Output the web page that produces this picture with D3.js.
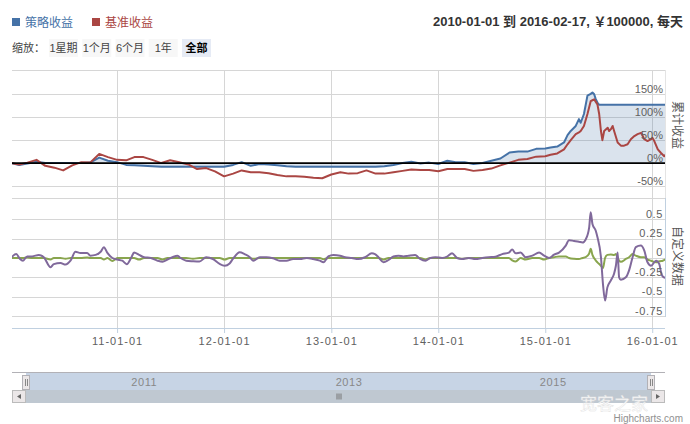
<!DOCTYPE html>
<html><head><meta charset="utf-8">
<script src="https://cdn.jsdelivr.net/npm/d3@7"></script>
<style>
body{margin:0;background:#fff;}
svg{display:block;font-family:"Liberation Sans",Arial,"Noto Sans CJK SC",sans-serif;}
</style></head>
<body><svg id="c" width="690" height="424"></svg>
<script>
// ---------------- DATA ----------------
const seriesNames = ["策略收益", "基准收益"];
const titleText = "2010-01-01 到 2016-02-17, ￥100000, 每天";
const zoomLabel = "缩放：";
const rangeButtons = ["1星期", "1个月", "6个月", "1年", "全部"];
const topAxisTitle = "累计收益";
const bottomAxisTitle = "自定义数据";
const topTicks = [-50, 0, 50, 100, 150];
const bottomTicks = [-0.75, -0.5, -0.25, 0, 0.25, 0.5];
const xTickDates = ["2011-01-01", "2012-01-01", "2013-01-01", "2014-01-01", "2015-01-01", "2016-01-01"];
const navTickDates = ["2011-01-01", "2013-01-01", "2015-01-01"];

const returnDates = [
 "2010-01-04","2010-02-01","2010-03-01","2010-04-01","2010-05-01","2010-06-01","2010-07-01","2010-08-01","2010-09-01","2010-10-01","2010-11-01","2010-12-01",
 "2011-01-01","2011-02-01","2011-03-01","2011-04-01","2011-05-01","2011-06-01","2011-07-01","2011-08-01","2011-09-01","2011-10-01","2011-11-01","2011-12-01",
 "2012-01-01","2012-02-01","2012-03-01","2012-04-01","2012-05-01","2012-06-01","2012-07-01","2012-08-01","2012-09-01","2012-10-01","2012-11-01","2012-12-01",
 "2013-01-01","2013-02-01","2013-03-01","2013-04-01","2013-05-01","2013-06-01","2013-07-01","2013-08-01","2013-09-01","2013-10-01","2013-11-01","2013-12-01",
 "2014-01-01","2014-02-01","2014-03-01","2014-04-01","2014-05-01","2014-06-01","2014-07-01","2014-08-01","2014-09-01","2014-10-01","2014-11-01","2014-12-01",
 "2015-01-01","2015-01-19","2015-02-11","2015-03-06","2015-03-18","2015-03-29","2015-04-15","2015-04-26","2015-05-02","2015-05-13","2015-05-25",
 "2015-06-05","2015-06-11","2015-06-17","2015-06-22","2015-06-28","2015-07-04","2015-07-10","2015-07-15","2015-07-21","2015-08-02","2015-08-07",
 "2015-08-13","2015-08-19","2015-08-24","2015-09-05","2015-09-16","2015-09-27","2015-10-09","2015-10-20","2015-11-01","2015-11-12","2015-11-24",
 "2015-12-05","2015-12-16","2015-12-28","2016-01-02","2016-01-08","2016-01-20","2016-01-31","2016-02-11","2016-02-17"
];
// cumulative return, %
const strategyReturns = [
 0,-4,-1,3,0,0,0,0,0,1,12,5,
 2,-4,-5,-6,-7,-8,-8,-8,-8,-8,-8,-8,
 -8,-4,2,-6,-2,-3,-5,-7,-8,-8,-8,-8,
 -8,-8,-8,-8,-8,-8,-7,-4,0,3,-1,1,
 -2,5,2,2,-2,0,5,10,23,25,25,31,
 32,34,36,45,61,70,81,96,88,107,147,
 151,154,150,140,132,127,127,127,127,127,127,
 127,127,127,127,127,127,127,127,127,127,127,
 127,127,127,127,127,127,127,127,127
];
const benchmarkReturns = [
 0,-3,1,7,-6,-10,-16,-5,2,1,20,13,
 7,6,13,13,7,0,6,2,-3,-13,-11,-18,
 -29,-23,-16,-20,-20,-22,-26,-29,-29,-30,-32,-33,
 -25,-20,-23,-22,-16,-23,-23,-20,-17,-14,-15,-15,
 -18,-13,-13,-13,-17,-15,-12,-5,1,7,9,14,
 15,18,21,30,41,50,63,67,70,81,107,
 135,137,139,134,128,107,70,50,70,77,70,
 74,81,70,45,38,38,41,52,59,63,66,
 52,48,52,55,48,30,22,15,19
];

const customDates = [
 "2010-01-04","2010-01-22","2010-02-03","2010-02-14","2010-02-28","2010-03-17","2010-04-09","2010-04-26","2010-05-19","2010-05-30",
 "2010-06-22","2010-07-09","2010-07-26","2010-08-12","2010-08-29","2010-09-21","2010-10-02","2010-10-20","2010-11-06","2010-11-17",
 "2010-11-29","2010-12-16","2011-01-02","2011-01-19","2011-02-03","2011-02-19","2011-02-28","2011-03-17","2011-04-03","2011-04-26",
 "2011-05-19","2011-06-05","2011-06-22","2011-07-09","2011-07-26","2011-08-02","2011-08-25","2011-09-17","2011-10-09","2011-11-01",
 "2011-11-24","2011-12-17","2012-01-03","2012-01-20","2012-01-31","2012-02-23","2012-03-11","2012-03-29","2012-04-09","2012-05-02",
 "2012-05-25","2012-06-16","2012-07-09","2012-08-01","2012-08-24","2012-09-16","2012-10-09","2012-10-31","2012-11-23","2012-12-05",
 "2012-12-22","2013-01-08","2013-01-31","2013-02-17","2013-03-12","2013-04-03","2013-04-26","2013-05-19","2013-05-30","2013-06-11",
 "2013-06-28","2013-07-15","2013-08-01","2013-08-18","2013-09-04","2013-09-21","2013-10-14","2013-10-31","2013-11-18","2013-12-05",
 "2013-12-22","2014-01-14","2014-01-31","2014-02-17","2014-03-06","2014-03-23","2014-04-15","2014-05-08","2014-05-31","2014-06-22",
 "2014-07-15","2014-08-07","2014-08-30","2014-09-10","2014-09-22","2014-10-09","2014-10-26","2014-11-18","2014-12-11","2014-12-28",
 "2015-01-14","2015-01-31","2015-02-17","2015-03-12","2015-03-23","2015-04-09","2015-04-26","2015-05-08","2015-05-19","2015-05-31",
 "2015-06-05","2015-06-11","2015-06-22","2015-06-28","2015-07-10","2015-07-17","2015-07-24","2015-08-01","2015-08-13","2015-08-24",
 "2015-08-30","2015-09-05","2015-09-10","2015-09-16","2015-10-03","2015-10-14","2015-10-26","2015-11-06","2015-11-23","2015-12-05",
 "2015-12-16","2015-12-28","2016-01-14","2016-01-25","2016-01-31","2016-02-06","2016-02-17"
];
const customPurple = [
 0,0.05,-0.01,-0.035,0.02,0.02,0.04,0.01,-0.12,-0.08,
 -0.065,-0.085,-0.035,0.08,0.065,0.065,0.03,0.04,0.08,0.14,
 0.065,0,-0.02,-0.035,-0.08,0.01,0.07,0.04,0.01,0,
 -0.035,-0.048,-0.02,0.01,0.03,0.01,-0.035,-0.043,-0.047,0.01,
 -0.013,-0.077,-0.1,-0.07,-0.013,0.073,0.05,0.01,-0.035,0.01,
 0.01,-0.004,-0.035,-0.035,-0.013,-0.013,0,-0.013,-0.035,-0.056,
 0.02,0.04,0.03,0.01,0,-0.013,0.01,0.06,0.05,0.01,
 -0.056,-0.026,0.02,0.03,0.02,0.03,0.04,-0.013,-0.035,0,
 0.01,0,0.017,0.06,0,-0.013,0,-0.013,0,0.01,
 0.017,0.05,0.07,0.11,0.06,0.07,0.01,0.03,0.07,0.03,
 0,0.043,0.07,0.16,0.23,0.22,0.21,0.2,0.24,0.4,
 0.59,0.44,0.355,0.27,0.01,-0.34,-0.55,-0.38,-0.29,-0.2,
 -0.1,0.07,-0.25,-0.28,-0.25,-0.16,0.01,0.14,0.16,0.095,
 -0.056,-0.1,-0.035,-0.077,-0.185,-0.24,-0.26
];
const customGreen = [
 0,0,0,0,0.005,0,0,0,-0.02,0,
 0,-0.01,0,0,0,0.005,0,0,0,-0.02,
 0,-0.04,0,0,0,0,0,-0.02,0,0,
 0,-0.02,0,0,0,0,0,-0.01,0,0,
 0,0,-0.02,0,0,0,0,0,-0.01,0,
 0,0,0,0,0,0,0,0,0,-0.015,
 0,0,0,0,0,0,0,0,0,0,
 -0.02,0,0,0,0,0,0,0,-0.02,0,
 0,0,0,0,0,-0.01,0,0,0,0,
 0,0,0,-0.03,-0.045,0,-0.02,0,0,-0.02,
 0,0.01,0.02,0.02,0,-0.01,-0.013,0,0.01,0.06,
 0.12,0.04,-0.03,-0.056,-0.1,-0.13,0,0.04,0.045,0.04,
 0.05,0,-0.035,-0.05,-0.013,0.01,0.05,0.03,0.01,0.01,
 -0.02,-0.035,-0.056,-0.043,-0.04,-0.035,-0.013
];

// ---------------- CHART ----------------
const svg = d3.select("#c");
const parse = d3.utcParse("%Y-%m-%d");
const L = 12, R = 665, T1 = 70, B1 = 198, T2 = 198, B2 = 328;
const colors = {blue:"#4572A7", red:"#AA4643", green:"#89A54E", purple:"#80699B"};

const x = d3.scaleUtc().domain([parse("2010-01-04"), parse("2016-02-17")]).range([11, 666]);
const yTop = d3.scaleLinear().domain([-50, 150]).range([186, 94.3]);
const yBot = d3.scaleLinear().domain([-0.75, 0.5]).range([316, 219.3]);

const retData = returnDates.map((d,i)=>({date:parse(d), s:strategyReturns[i], b:benchmarkReturns[i]}));
const cusData = customDates.map((d,i)=>({date:parse(d), p:customPurple[i], g:customGreen[i]}));

const defs = svg.append("defs");
defs.append("clipPath").attr("id","clipTop").append("rect").attr("x",L).attr("y",T1).attr("width",R-L).attr("height",B1-T1);
defs.append("clipPath").attr("id","clipBot").append("rect").attr("x",L).attr("y",T2).attr("width",R-L).attr("height",B2-T2);

// vertical grid lines (x axis)
const xTicks = xTickDates.map(parse);
svg.append("g").attr("transform",`translate(0,${B2})`)
  .call(d3.axisBottom(x).tickValues(xTicks).tickSize(-(B2-T1)).tickFormat(""))
  .call(g=>{g.select(".domain").remove(); g.selectAll("line").attr("stroke","#d6d6d6").attr("shape-rendering","crispEdges");});

// horizontal grid, top pane
svg.append("g").attr("transform",`translate(${R},0)`)
  .call(d3.axisLeft(yTop).tickValues(topTicks).tickSize(R-L).tickFormat(""))
  .call(g=>{g.select(".domain").remove(); g.selectAll("line").attr("stroke","#d6d6d6").attr("shape-rendering","crispEdges");});
svg.append("line").attr("x1",L).attr("x2",R).attr("y1",T1+0.5).attr("y2",T1+0.5).attr("stroke","#d6d6d6");
svg.append("line").attr("x1",L).attr("x2",R).attr("y1",B1+0.5).attr("y2",B1+0.5).attr("stroke","#d6d6d6");
// horizontal grid, bottom pane
svg.append("g").attr("transform",`translate(${R},0)`)
  .call(d3.axisLeft(yBot).tickValues(bottomTicks).tickSize(R-L).tickFormat(""))
  .call(g=>{g.select(".domain").remove(); g.selectAll("line").attr("stroke","#d6d6d6").attr("shape-rendering","crispEdges");});

// right axis lines
svg.append("line").attr("x1",R+0.5).attr("x2",R+0.5).attr("y1",T1).attr("y2",B1).attr("stroke","#e4e4e4");
svg.append("line").attr("x1",R+0.5).attr("x2",R+0.5).attr("y1",T2).attr("y2",B2-11).attr("stroke","#C0D0E0");

// top series
const gTop = svg.append("g").attr("clip-path","url(#clipTop)");
gTop.append("path").datum(retData)
  .attr("d", d3.area().x(d=>x(d.date)).y0(yTop(0)).y1(d=>yTop(d.s)))
  .attr("fill", colors.blue).attr("fill-opacity",0.2);
svg.append("line").attr("x1",L).attr("x2",R).attr("y1",yTop(0)).attr("y2",yTop(0)).attr("stroke","#000").attr("stroke-width",1.6);
gTop.append("path").datum(retData)
  .attr("d", d3.line().x(d=>x(d.date)).y(d=>yTop(d.s)))
  .attr("fill","none").attr("stroke",colors.blue).attr("stroke-width",2).attr("stroke-linejoin","round");
gTop.append("path").datum(retData)
  .attr("d", d3.line().x(d=>x(d.date)).y(d=>yTop(d.b)))
  .attr("fill","none").attr("stroke",colors.red).attr("stroke-width",2).attr("stroke-linejoin","round");

// bottom series
const gBot = svg.append("g").attr("clip-path","url(#clipBot)");
gBot.append("path").datum(cusData)
  .attr("d", d3.line().x(d=>x(d.date)).y(d=>yBot(d.g)).curve(d3.curveMonotoneX))
  .attr("fill","none").attr("stroke",colors.green).attr("stroke-width",2).attr("stroke-linejoin","round");
gBot.append("path").datum(cusData)
  .attr("d", d3.line().x(d=>x(d.date)).y(d=>yBot(d.p)).curve(d3.curveMonotoneX))
  .attr("fill","none").attr("stroke",colors.purple).attr("stroke-width",2).attr("stroke-linejoin","round");

// y labels
svg.append("g").attr("transform",`translate(${R},0)`)
  .call(d3.axisLeft(yTop).tickValues(topTicks).tickSize(0).tickPadding(2).tickFormat(d=>d+"%"))
  .call(g=>{g.select(".domain").remove(); g.selectAll("text").attr("y",-2).attr("dy",0).attr("fill","#606060").attr("font-size",11);});
svg.append("g").attr("transform",`translate(${R},0)`)
  .call(d3.axisLeft(yBot).tickValues(bottomTicks).tickSize(0).tickPadding(2).tickFormat(d=>String(d)))
  .call(g=>{g.select(".domain").remove(); g.selectAll("text").attr("y",-2).attr("dy",0).attr("fill","#606060").attr("font-size",11).attr("letter-spacing",0.6);});

// x axis
svg.append("g").attr("transform",`translate(0,${B2})`)
  .call(d3.axisBottom(x).tickValues(xTicks).tickSize(5).tickPadding(4).tickFormat(d3.utcFormat("%y-%m-%d")))
  .call(g=>{g.select(".domain").attr("d",`M${L},0.5H${R}`).attr("stroke","#C0D0E0");
           g.selectAll("line").attr("stroke","#C0D0E0");
           g.selectAll("text").attr("fill","#606060").attr("font-size",11).attr("letter-spacing",1);});

// axis titles
svg.append("text").attr("transform","translate(673,125) rotate(90)").attr("text-anchor","middle")
  .attr("font-size",12).attr("fill","#555").text(topAxisTitle);
svg.append("text").attr("transform","translate(673,256) rotate(90)").attr("text-anchor","middle")
  .attr("font-size",12).attr("fill","#555").text(bottomAxisTitle);

// legend
const legendX = [12, 92];
seriesNames.forEach((n,i)=>{
  const c = i===0?colors.blue:colors.red;
  svg.append("rect").attr("x",legendX[i]).attr("y",18).attr("width",8).attr("height",8).attr("fill",c);
  svg.append("text").attr("x",legendX[i]+13).attr("y",27).attr("font-size",12).attr("fill",c).text(n);
});
// title
svg.append("text").attr("x",683).attr("y",26).attr("text-anchor","end").attr("font-size",13)
  .attr("font-weight","bold").attr("fill","#333").text(titleText);

// range selector
svg.append("text").attr("x",12).attr("y",52).attr("font-size",11).attr("fill","#444").text(zoomLabel);
const btnX = d3.scalePoint().domain(rangeButtons).range([49,182]);
rangeButtons.forEach((b,i)=>{
  const sel = i===rangeButtons.length-1;
  svg.append("rect").attr("x",btnX(b)).attr("y",39).attr("width",29).attr("height",18)
    .attr("fill", sel?"#e6ebf5":"#f7f7f7");
  svg.append("text").attr("x",btnX(b)+14.5).attr("y",52).attr("text-anchor","middle")
    .attr("font-size",11).attr("font-weight",sel?"bold":"normal").attr("fill",sel?"#000":"#444").text(b);
});

// navigator
const navX = d3.scaleUtc().domain(x.domain()).range([26,651]);
const NT = 372, NB = 390, ST = 390, SB = 403;
svg.append("rect").attr("x",navX.range()[0]).attr("y",NT).attr("width",navX.range()[1]-navX.range()[0]).attr("height",NB-NT).attr("fill","#c7d4e5");
svg.append("line").attr("x1",L).attr("x2",R).attr("y1",NT+0.5).attr("y2",NT+0.5).attr("stroke","#b2b1b6");
navTickDates.forEach(d=>{
  svg.append("text").attr("x",navX(parse(d))+4).attr("y",386).attr("font-size",11).attr("fill","#888").attr("letter-spacing",0.6).text(d.slice(0,4));
});
// scrollbar
svg.append("rect").attr("x",L).attr("y",ST).attr("width",R-L).attr("height",SB-ST).attr("fill","#eeeeee");
svg.append("rect").attr("x",navX.range()[0]).attr("y",ST).attr("width",navX.range()[1]-navX.range()[0]).attr("height",SB-ST).attr("fill","#bfc8d1");
[L, R-14].forEach(bx=>{
  svg.append("rect").attr("x",bx+0.5).attr("y",ST+0.5).attr("width",13).attr("height",SB-ST-1).attr("fill","#ebe7e8").attr("stroke","#bbb");
});
svg.append("path").attr("d","M21,394L17,396.5L21,399Z").attr("fill","#666");
svg.append("path").attr("d","M656,394L660,396.5L656,399Z").attr("fill","#666");
const mid = (navX.range()[0]+navX.range()[1])/2;
[-2,0,2].forEach(o=>svg.append("line").attr("x1",mid+o+0.5).attr("x2",mid+o+0.5).attr("y1",393.5).attr("y2",399.5).attr("stroke","#777"));
// handles
navX.range().forEach(hx=>{
  svg.append("rect").attr("x",hx-3.5).attr("y",375.5).attr("width",7).attr("height",14).attr("fill","#ebe7e8").attr("stroke","#b2b1b6");
  [-1,1].forEach(o=>svg.append("line").attr("x1",hx+o+0.5).attr("x2",hx+o+0.5).attr("y1",379).attr("y2",386).attr("stroke","#888"));
});

// watermark & credits
svg.append("text").attr("x",580).attr("y",410).attr("font-size",17).attr("fill","#fff").attr("fill-opacity",0.9)
  .attr("stroke","#e0e0e0").attr("stroke-width",0.4).text("宽客之家");
svg.append("text").attr("x",683).attr("y",422).attr("text-anchor","end").attr("font-size",10).attr("fill","#909090").text("Highcharts.com");
</script></body></html>
